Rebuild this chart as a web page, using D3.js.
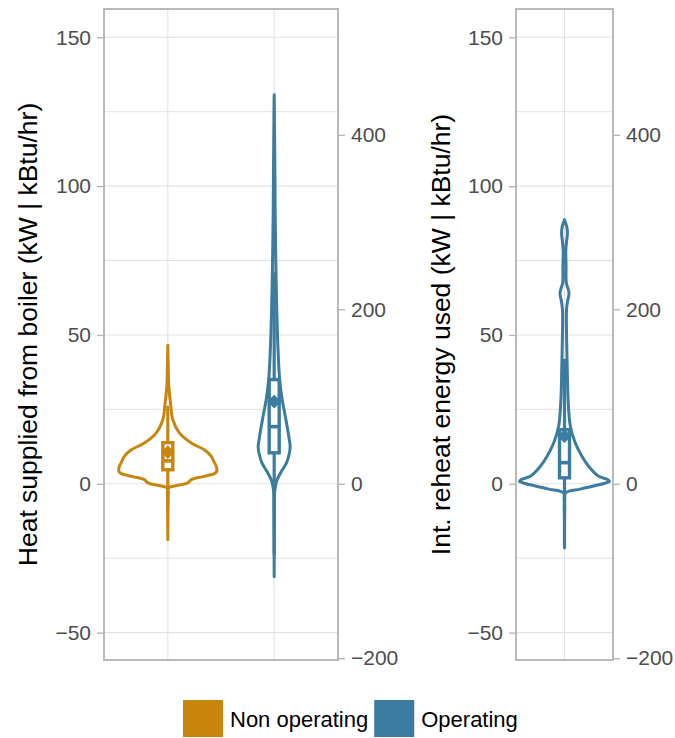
<!DOCTYPE html>
<html>
<head>
<meta charset="utf-8">
<script src="https://cdn.jsdelivr.net/npm/d3@7"></script>
<style>
  html, body { margin: 0; padding: 0; background: #fff; }
  svg { display: block; font-family: "Liberation Sans", Arial, sans-serif; }
</style>
</head>
<body>
<svg id="chart" width="675" height="738"></svg>
<script>
// ---- data -------------------------------------------------------------
const categories = ["Non operating", "Operating"];
const seriesColors = ["#C8860F", "#3B7CA0"];

// Violin outlines: [kW, relative half-width of the density]
const boilerNonOpProfile = [
  [-18.8, 0], [-10, 0.004], [-3, 0.006], [-1.4, 0.012], [-0.5, 0.2], [0.3, 0.40],
  [1.4, 0.47], [2.4, 0.70], [3.4, 0.93], [4.2, 0.98], [5.8, 0.97], [7.5, 0.92],
  [9.2, 0.87], [11.4, 0.73], [13.7, 0.47], [17.1, 0.23], [21.5, 0.10],
  [27.2, 0.054], [32.7, 0.02], [38.3, 0.01], [46.5, 0]
];
const boilerOpProfile = [
  [-31.2, 0], [-10, 0.005], [-2.5, 0.01], [-1.4, 0.02], [0.8, 0.046], [4.2, 0.146],
  [7.0, 0.246], [10.0, 0.30], [12.5, 0.32], [15.0, 0.30], [18.2, 0.27], [23.8, 0.21],
  [28.2, 0.16], [35, 0.11], [43.9, 0.08], [57.4, 0.053], [74, 0.033], [91, 0.02],
  [110, 0.012], [130.7, 0]
];
const reheatOpProfile = [
  [-21.6, 0], [-8, 0.005], [-3.1, 0.02], [-1.8, 0.35], [-0.6, 0.69], [0.27, 0.91],
  [0.8, 1.0], [1.5, 0.95], [2.5, 0.76], [5.8, 0.54], [9.2, 0.39], [13.7, 0.24],
  [19.3, 0.13], [28.2, 0.08], [39.4, 0.06], [50.6, 0.045], [58.5, 0.045], [61.5, 0.07],
  [64, 0.1], [66, 0.07], [67.5, 0.04], [73, 0.035], [78.6, 0.03], [82, 0.05],
  [84.2, 0.065], [86.4, 0.05], [88.7, 0]
];

// Box summaries: [lower whisker, Q1, median, Q3, upper whisker, mean] in kW
const boilerNonOpBox = [-7.6, 4.7, 7.7, 13.8, 26.2, 10.6];
const boilerOpBox    = [-23.8, 10.4, 19.2, 35.0, 71.0, 27.6];
const reheatOpBox    = [-21.6, 2.0, 7.1, 18.2, 42.0, 16.0];

const kwTicks = [-50, 0, 50, 100, 150];
const kwMinorTicks = [-25, 25, 75, 125];
const kbtuTicks = [-200, 0, 200, 400];
const KBTU_PER_KW = 3.412;
const kwDomain = [-59.2, 159.5];

const yTitles = ["Heat supplied from boiler (kW | kBtu/hr)", "Int. reheat energy used (kW | kBtu/hr)"];

// ---- layout -----------------------------------------------------------
const svg = d3.select("#chart");
const panelTop = 9, panelBottom = 660;
const gridColor = "#e3e3e3", borderColor = "#b3b3b3", tickText = "#4d4d4d";

const y = d3.scaleLinear().domain(kwDomain).range([panelBottom, panelTop]);
const yK = d3.scaleLinear().domain(kwDomain.map(v => v * KBTU_PER_KW)).range([panelBottom, panelTop]);

function drawPanel(opts) {
  const { left, right, cats, title, titleX, violins, halfWidthFrac } = opts;
  const x = d3.scalePoint().domain(cats).range([left, right]).padding(0.6);
  const step = x.step();
  const w = d3.scaleLinear().domain([0, 1]).range([0, halfWidthFrac * step]);
  const g = svg.append("g");

  // grid
  g.selectAll(".minor").data(kwMinorTicks).join("line")
    .attr("x1", left).attr("x2", right)
    .attr("y1", d => y(d)).attr("y2", d => y(d))
    .attr("stroke", gridColor).attr("stroke-width", 1);
  g.selectAll(".major").data(kwTicks).join("line")
    .attr("x1", left).attr("x2", right)
    .attr("y1", d => y(d)).attr("y2", d => y(d))
    .attr("stroke", gridColor).attr("stroke-width", 1.1);
  g.selectAll(".vgrid").data(cats).join("line")
    .attr("x1", d => x(d)).attr("x2", d => x(d))
    .attr("y1", panelTop).attr("y2", panelBottom)
    .attr("stroke", gridColor).attr("stroke-width", 1.1);

  // violins + boxes
  violins.forEach(v => {
    const cx = x(v.cat);
    const area = d3.area()
      .curve(d3.curveCatmullRom)
      .y(d => y(d[0]))
      .x0(d => cx - w(d[1]))
      .x1(d => cx + w(d[1]));
    g.append("path").attr("d", area(v.profile))
      .attr("fill", "none").attr("stroke", v.color).attr("stroke-width", 3)
      .attr("stroke-linejoin", "round");

    const [lo, q1, med, q3, hi, mean] = v.box;
    const bw = 10;
    g.append("line").attr("x1", cx).attr("x2", cx).attr("y1", y(q3)).attr("y2", y(hi))
      .attr("stroke", v.color).attr("stroke-width", 3.2);
    g.append("line").attr("x1", cx).attr("x2", cx).attr("y1", y(q1)).attr("y2", y(lo))
      .attr("stroke", v.color).attr("stroke-width", 3.2);
    g.append("rect").attr("x", cx - bw / 2).attr("width", bw)
      .attr("y", y(q3)).attr("height", y(q1) - y(q3))
      .attr("fill", "#fff").attr("stroke", v.color).attr("stroke-width", 3.4);
    g.append("line").attr("x1", cx - bw / 2).attr("x2", cx + bw / 2)
      .attr("y1", y(med)).attr("y2", y(med))
      .attr("stroke", v.color).attr("stroke-width", 3.6);
    g.append("path")
      .attr("d", d3.symbol(d3.symbolDiamond2, 120)())
      .attr("transform", `translate(${cx},${y(mean)})`)
      .attr("fill", v.color);
  });

  // border
  g.append("rect").attr("x", left).attr("y", panelTop)
    .attr("width", right - left).attr("height", panelBottom - panelTop)
    .attr("fill", "none").attr("stroke", borderColor).attr("stroke-width", 1.8);

  // axes
  const la = g.append("g").attr("transform", `translate(${left},0)`)
    .call(d3.axisLeft(y).tickValues(kwTicks).tickSize(7).tickPadding(6));
  const ra = g.append("g").attr("transform", `translate(${right},0)`)
    .call(d3.axisRight(yK).tickValues(kbtuTicks).tickSize(7).tickPadding(6));
  [la, ra].forEach(a => {
    a.select(".domain").remove();
    a.selectAll(".tick line").attr("stroke", borderColor).attr("stroke-width", 1.3);
    a.selectAll(".tick text").attr("fill", tickText)
      .style("font-size", "21px").style("font-family", "'Liberation Sans', Arial, sans-serif");
  });

  // axis title
  g.append("text")
    .attr("transform", `translate(${titleX},${(panelTop + panelBottom) / 2}) rotate(-90)`)
    .attr("text-anchor", "middle")
    .attr("fill", "#000")
    .style("font-size", "26.5px")
    .text(title);
}

drawPanel({
  left: 104, right: 338, cats: categories, title: yTitles[0], titleX: 37,
  halfWidthFrac: 0.47,
  violins: [
    { cat: categories[0], color: seriesColors[0], profile: boilerNonOpProfile, box: boilerNonOpBox },
    { cat: categories[1], color: seriesColors[1], profile: boilerOpProfile, box: boilerOpBox }
  ]
});
drawPanel({
  left: 516, right: 613, cats: [categories[1]], title: yTitles[1], titleX: 450,
  halfWidthFrac: 0.557,
  violins: [
    { cat: categories[1], color: seriesColors[1], profile: reheatOpProfile, box: reheatOpBox }
  ]
});

// ---- legend -----------------------------------------------------------
const legend = svg.append("g");
let lx = 183;
categories.forEach((c, i) => {
  legend.append("rect").attr("x", lx).attr("y", 700).attr("width", 40).attr("height", 37)
    .attr("fill", seriesColors[i]);
  const t = legend.append("text").attr("x", lx + 47).attr("y", 727)
    .attr("fill", "#000").style("font-size", "22px").text(c);
  lx = lx + 47 + t.node().getComputedTextLength() + 6;
});
</script>
</body>
</html>
